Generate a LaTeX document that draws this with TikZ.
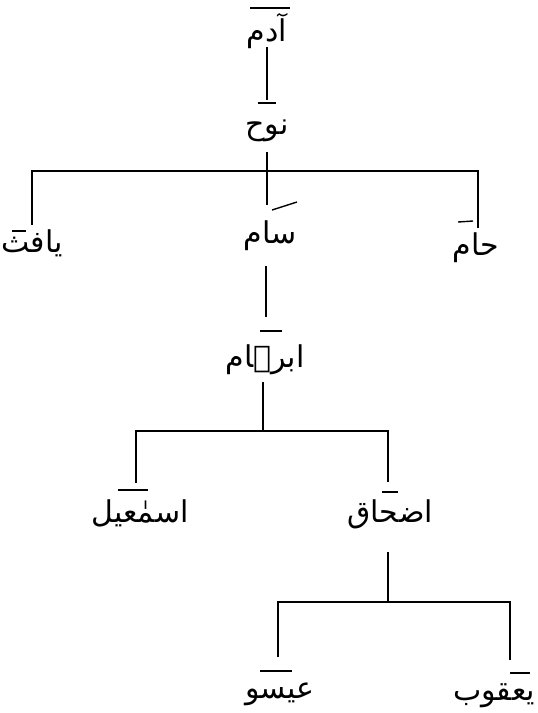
\documentclass[tikz,border=0pt]{standalone}
\usepackage{fontspec}
\newfontfamily\arabicfont[Script=Arabic]{DejaVu Sans}
\TeXXeTstate=1
\begin{document}
\begin{tikzpicture}[x=1pt,y=-1pt,
  lbl/.style={inner sep=0pt, text height=20pt, text depth=8pt, font=\arabicfont\fontsize{30}{34}\selectfont},
  link/.style={line width=2.7pt},
  nm/.style={line width=1.4pt}]
\fill[white] (0,0) rectangle (538,713);
\useasboundingbox (0,0) rectangle (538,713);
% names
\node[lbl] (adam)    at (267,35)  {\beginR آدم\endR};
\node[lbl] (nuh)     at (267,128) {\beginR نوح\endR};
\node[lbl] (yafith)  at (32,246)  {\beginR یافث\endR};
\node[lbl] (sam)     at (270,237) {\beginR سام\endR};
\node[lbl] (ham)     at (476,249) {\beginR حام\endR};
\node[lbl] (ibrahim) at (265,361) {\beginR ابرہام\endR};
\node[lbl] (ismail)  at (140,516) {\beginR اسمٰعیل\endR};
\node[lbl] (ishaq)   at (390,516) {\beginR اضحاق\endR};
\node[lbl] (esau)    at (280,692) {\beginR عیسو\endR};
\node[lbl] (yaqub)   at (494,694) {\beginR یعقوب\endR};
% junction points
\coordinate (b1) at (267,171);
\coordinate (b2) at (263,431);
\coordinate (b3) at (388,602);
% connectors
\draw[link] ([shift={(0,12)}]adam.center) -- ([shift={(0,-28)}]nuh.center);
\draw[link] ([shift={(0,24)}]nuh.center) -- ([shift={(0,-32)}]nuh.center |- sam.center);
\draw[link] ([shift={(0,-21)}]yafith.center) |- (b1) -| ([shift={(2,-21)}]ham.center);
\draw[link] ([shift={(-4,29)}]sam.center) -- ([shift={(-4,-44)}]sam.center |- ibrahim.center);
\draw[link] ([shift={(-2,21)}]ibrahim.center) -- (b2);
\draw[link] ([shift={(-4,-33)}]ismail.center) |- (b2) -| ([shift={(-2,-34)}]ishaq.center);
\draw[link] ([shift={(-2,36)}]ishaq.center) -- (b3);
\draw[link] ([shift={(-2,-35)}]esau.center) |- (b3) -| ([shift={(16,-34)}]yaqub.center);
% name marks
\draw[nm] ([shift={(-17,-27)}]adam.center) -- ([shift={(23,-27)}]adam.center);
\draw[nm] ([shift={(-9,-25)}]nuh.center) -- ([shift={(9,-25)}]nuh.center);
\draw[nm] ([shift={(-20,-15)}]yafith.center) -- ([shift={(-6,-15)}]yafith.center);
\draw[nm] ([shift={(2,-27)}]sam.center) -- ([shift={(27,-35)}]sam.center);
\draw[nm] ([shift={(-18,-27)}]ham.center) -- ([shift={(-3,-28)}]ham.center);
\draw[nm] ([shift={(-5,-30)}]ibrahim.center) -- ([shift={(17,-30)}]ibrahim.center);
\draw[nm] ([shift={(-22,-26)}]ismail.center) -- ([shift={(8,-26)}]ismail.center);
\draw[nm] ([shift={(-8,-24)}]ishaq.center) -- ([shift={(8,-24)}]ishaq.center);
\draw[nm] ([shift={(-20,-21)}]esau.center) -- ([shift={(12,-21)}]esau.center);
\draw[nm] ([shift={(16,-21)}]yaqub.center) -- ([shift={(36,-21)}]yaqub.center);
\end{tikzpicture}
\end{document}
